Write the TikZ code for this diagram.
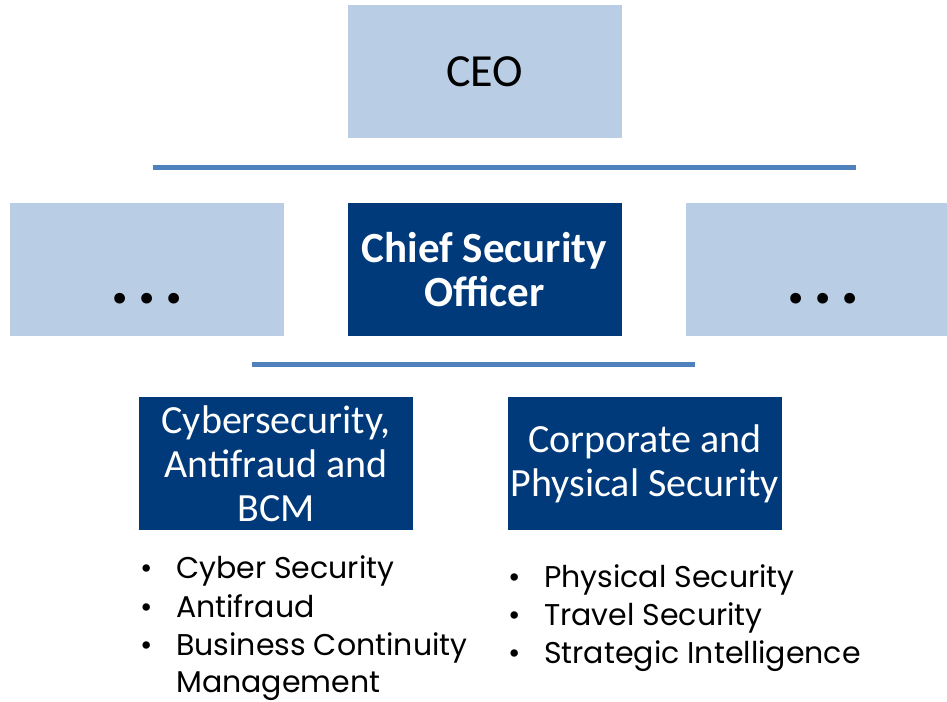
\documentclass[tikz,border=0pt]{standalone}
\usepackage{fontspec}
\setmainfont{Carlito}
\newfontfamily\gothic{Poppins}
\definecolor{lightbox}{HTML}{B9CDE5}
\definecolor{darkbox}{HTML}{003A7A}
\definecolor{rule}{HTML}{4F81BD}
\tikzset{
  lightnode/.style={fill=lightbox, draw=none, minimum width=274pt, minimum height=133pt, inner sep=0pt},
  darknode/.style={fill=darkbox, draw=none, minimum width=274pt, minimum height=133pt, inner sep=0pt, text=white, align=center},
  hrule/.style={draw=rule, line width=5pt},
  bul/.style={anchor=base, inner sep=0pt, font=\gothic\fontsize{30}{30}\selectfont},
  item/.style={anchor=base west, inner sep=0pt, font=\gothic\fontsize{30}{39}\selectfont},
  dots/.style={anchor=base, inner sep=0pt, font=\bfseries\fontsize{72}{72}\selectfont},
}
\begin{document}
\begin{tikzpicture}[x=1pt,y=-1pt]
\useasboundingbox (0,0) rectangle (947,701);
\node[lightnode, font=\fontsize{46}{50}\selectfont] (ceo) at (484.5,71.5) {CEO};
\coordinate (r1a) at (153,167.5);
\coordinate (r1b) at (856,167.5);
\draw[hrule] (r1a) -- (r1b);
\node[lightnode] (left) at (147,269.5) {};
\node[darknode, font=\bfseries\fontsize{43}{44}\selectfont] (cso) at (484.5,269.5) {Chief Security\\Officer};
\node[lightnode, minimum width=261pt] (right) at (816.5,269.5) {};
\node[dots] (ldots) at (147,303) {.\hspace{8pt}.\hspace{8pt}.};
\node[dots] (rdots) at (823,303) {.\hspace{8pt}.\hspace{8pt}.};
\coordinate (r2a) at (252,364.5);
\coordinate (r2b) at (695,364.5);
\draw[hrule] (r2a) -- (r2b);
\node[darknode, font=\fontsize{40}{44}\selectfont] (cyber) at (276,463.5) {Cybersecurity,\\Antifraud and\\BCM};
\node[darknode, font=\fontsize{40}{44}\selectfont] (corp) at (645,463.5) {Corporate and\\Physical Security};
% left list
\node[bul] (lb1) at (147,578) {•};
\node[item] (lt1) at (176,578) {Cyber Security};
\node[bul] (lb2) at (147,617) {•};
\node[item] (lt2) at (176,617) {Antifraud};
\node[bul] (lb3) at (147,655) {•};
\node[item] (lt3) at (176,655) {Business Continuity};
\node[item] (lt4) at (176,692) {Management};
% right list
\node[bul] (rb1) at (515,587) {•};
\node[item] (rt1) at (544,587) {Physical Security};
\node[bul] (rb2) at (515,625) {•};
\node[item] (rt2) at (544,625) {Travel Security};
\node[bul] (rb3) at (515,663) {•};
\node[item] (rt3) at (544,663) {Strategic Intelligence};
\end{tikzpicture}
\end{document}
